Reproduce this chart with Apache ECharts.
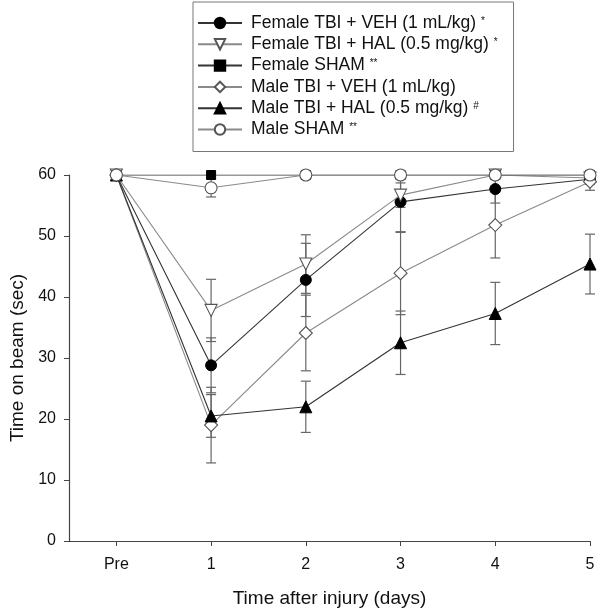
<!DOCTYPE html>
<html>
<head>
<meta charset="utf-8">
<script src="https://cdn.jsdelivr.net/npm/echarts@6/dist/echarts.min.js"></script>
<style>html,body{margin:0;padding:0;background:#fff}#c{width:600px;height:613px}</style>
</head>
<body>
<div id="c"></div>
<script>
// ---- data ----
const days = [0, 1, 2, 3, 4, 5];
const dayLabels = ['Pre', '1', '2', '3', '4', '5'];
const seriesNames = ['Female TBI + VEH (1 mL/kg)', 'Female TBI + HAL (0.5 mg/kg)', 'Female SHAM',
  'Male TBI + VEH (1 mL/kg)', 'Male TBI + HAL (0.5 mg/kg)', 'Male SHAM'];
const sigMarks = ['*', '*', '**', '', '#', '**'];

const femaleVeh = [60, 28.8, 42.8, 55.6, 57.7, 59.3];
const femaleVehSem = [0, 4.5, 6.0, 5.0, 2.3, 0.8];
const femaleHal = [60, 37.8, 45.4, 56.7, 60, 59.5];
const femaleHalSem = [0, 5.1, 4.8, 2.0, 0, 0.5];
const femaleSham = [60, 60, 60, 60, 60, 60];
const femaleShamSem = [0, 0, 0, 0, 0, 0];
const maleVeh = [60, 19.0, 34.1, 43.9, 51.8, 58.9];
const maleVehSem = [0, 6.2, 6.2, 6.8, 5.4, 1.4];
const maleHal = [60, 20.5, 22.0, 32.5, 37.3, 45.4];
const maleHalSem = [0, 3.5, 4.2, 5.2, 5.1, 4.9];
const maleSham = [60, 57.9, 60, 60, 60, 60];
const maleShamSem = [0, 1.5, 0, 0, 0, 0];

const values = [femaleVeh, femaleHal, femaleSham, maleVeh, maleHal, maleSham];
const sems = [femaleVehSem, femaleHalSem, femaleShamSem, maleVehSem, maleHalSem, maleShamSem];

// ---- styles ----
const triDown = 'path://M0,0 L10,0 L5,8.66 Z';
const symbols = ['circle', triDown, 'rect', 'diamond', 'triangle', 'circle'];
const symbolSizes = [11, 12, 9, 13, 12, 12];
const filled = [true, false, true, false, true, false];

const chart = echarts.init(document.getElementById('c'));
const FONT = 'Liberation Sans, Arial, sans-serif';

const series = [];
// error bars first (behind)
values.forEach((vals, i) => {
  series.push({
    type: 'custom',
    name: seriesNames[i] + '_err',
    silent: true,
    z: 1,
    data: days.map((d, k) => [d, vals[k], sems[i][k]]),
    renderItem: function (params, api) {
      const x = api.value(0), y = api.value(1), s = api.value(2);
      if (!s) return null;
      const top = api.coord([x, y + s]);
      const bot = api.coord([x, y - s]);
      const w = 5;
      const st = {stroke: '#666', lineWidth: 1.2};
      return {
        type: 'group',
        children: [
          {type: 'line', shape: {x1: top[0], y1: top[1], x2: bot[0], y2: bot[1]}, style: st},
          {type: 'line', shape: {x1: top[0] - w, y1: top[1], x2: top[0] + w, y2: top[1]}, style: st},
          {type: 'line', shape: {x1: bot[0] - w, y1: bot[1], x2: bot[0] + w, y2: bot[1]}, style: st}
        ]
      };
    }
  });
});
values.forEach((vals, i) => {
  series.push({
    type: 'line',
    name: seriesNames[i],
    z: 2 + i,
    data: days.map((d, k) => [d, vals[k]]),
    symbol: symbols[i],
    symbolSize: symbolSizes[i],
    showAllSymbol: true,
    lineStyle: {color: filled[i] ? '#333' : '#8a8a8a', width: 1.1},
    itemStyle: filled[i]
      ? {color: '#000', borderColor: '#000', borderWidth: 1}
      : {color: '#fff', borderColor: '#555', borderWidth: 1.1},
    emphasis: {disabled: true},
    animation: false
  });
});

chart.setOption({
  animation: false,
  backgroundColor: '#fff',
  grid: {left: 67, right: 10, top: 175, bottom: 72, containLabel: false},
  legend: {
    orient: 'vertical',
    left: 193,
    top: 2,
    data: seriesNames,
    itemWidth: 44,
    itemHeight: 13,
    itemGap: 3.3,
    padding: [12, 16, 13, 4],
    borderColor: '#777',
    borderWidth: 1,
    selectedMode: false,
    formatter: function (name) {
      const i = seriesNames.indexOf(name);
      return '{n|' + name + '}' + (sigMarks[i] ? ' {s|' + sigMarks[i] + '}' : '');
    },
    textStyle: {
      fontFamily: FONT, fontSize: 17.5, color: '#111', lineHeight: 14,
      rich: {
        n: {fontFamily: FONT, fontSize: 17.5, color: '#111', lineHeight: 14, padding: [0, 0, 0, 4]},
        s: {fontFamily: FONT, fontSize: 10, color: '#111', lineHeight: 14, verticalAlign: 'top', padding: [0, 0, 6, 0]}
      }
    }
  },
  xAxis: {
    type: 'value',
    min: -0.5,
    max: 5,
    name: 'Time after injury (days)',
    nameLocation: 'middle',
    nameGap: 48,
    nameTextStyle: {fontFamily: FONT, fontSize: 19, color: '#111'},
    axisLine: {onZero: false, lineStyle: {color: '#444', width: 1.2}},
    axisTick: {show: true, length: 5, customValues: days, lineStyle: {color: '#444'}},
    axisLabel: {
      customValues: days,
      fontFamily: FONT, fontSize: 16, color: '#111', margin: 16,
      formatter: function (v) { return dayLabels[days.indexOf(v)]; }
    },
    splitLine: {show: false}
  },
  yAxis: {
    type: 'value',
    min: 0,
    max: 60,
    interval: 10,
    name: 'Time on beam (sec)',
    nameLocation: 'middle',
    nameGap: 42,
    nameTextStyle: {fontFamily: FONT, fontSize: 19, color: '#111'},
    axisLine: {show: true, onZero: false, lineStyle: {color: '#444', width: 1.2}},
    axisTick: {show: true, length: 5, lineStyle: {color: '#444'}},
    axisLabel: {fontFamily: FONT, fontSize: 16, color: '#111', margin: 13},
    splitLine: {show: false}
  },
  series: series
});
</script>
</body>
</html>
